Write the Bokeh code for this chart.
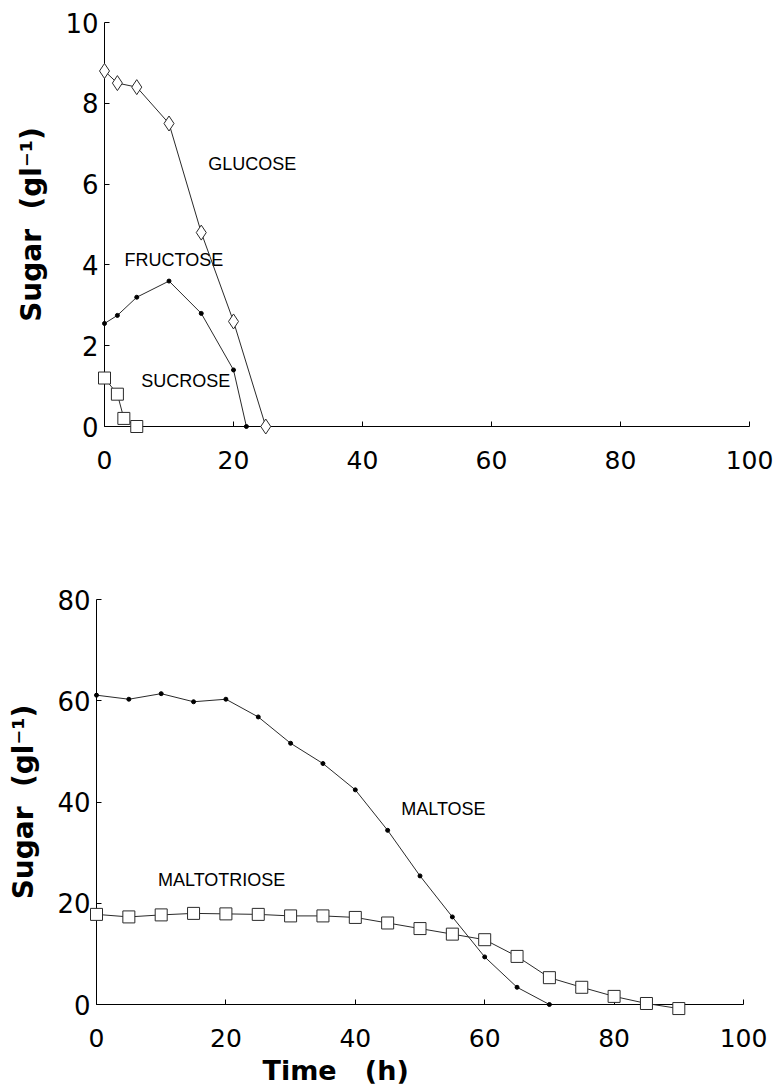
from bokeh.plotting import figure
from bokeh.models import Range1d, FixedTicker, Label, Title
from bokeh.embed import file_html
from bokeh.resources import INLINE

# ---------------- data: upper panel ----------------
glucose_t = [0, 2, 5, 10, 15, 20, 25]
glucose = [8.8, 8.5, 8.4, 7.5, 4.8, 2.6, 0.0]
fructose_t = [0, 2, 5, 10, 15, 20, 22]
fructose = [2.55, 2.75, 3.2, 3.6, 2.8, 1.4, 0.0]
sucrose_t = [0, 2, 3, 5]
sucrose = [1.2, 0.8, 0.2, 0.0]

# ---------------- data: lower panel ----------------
maltose_t = [0, 5, 10, 15, 20, 25, 30, 35, 40, 45, 50, 55, 60, 65, 70]
maltose = [61.1, 60.3, 61.4, 59.8, 60.3, 56.8, 51.6, 47.6, 42.4, 34.4, 25.4, 17.3, 9.4, 3.4, 0.0]
maltotriose_t = [0, 5, 10, 15, 20, 25, 30, 35, 40, 45, 50, 55, 60, 65, 70, 75, 80, 85, 90]
maltotriose = [17.8, 17.3, 17.7, 18.0, 17.9, 17.8, 17.5, 17.5, 17.2, 16.1, 15.0, 13.9, 12.8, 9.5,
               5.3, 3.4, 1.6, 0.2, -0.8]

x_ticks = [0, 20, 40, 60, 80, 100]
top_y_ticks = [0, 2, 4, 6, 8, 10]
bottom_y_ticks = [0, 20, 40, 60, 80]

y_label = "Sugar \u00a0(gl\u207b\u00b9)"
x_label = "Time \u00a0\u00a0(h)"

TICK_FONT = "DejaVu Sans"
LABEL_FONT = "DejaVu Sans"
LINE_COLOR = "#2a2a2a"


def style(p, yticks, label_standoff, xlabel_standoff):
    p.outline_line_color = None
    p.grid.visible = False
    p.xaxis.ticker = FixedTicker(ticks=x_ticks)
    p.yaxis.ticker = FixedTicker(ticks=yticks)
    for ax in (p.xaxis[0], p.yaxis[0]):
        ax.axis_line_color = "black"
        ax.axis_line_width = 1
        ax.major_tick_in = 5
        ax.major_tick_out = 0
        ax.minor_tick_line_color = None
        ax.major_tick_line_color = "black"
        ax.major_label_text_font = TICK_FONT
        ax.major_label_text_color = "black"
    p.xaxis.major_label_text_font_size = "25px"
    p.yaxis.major_label_text_font_size = "26px"
    p.xaxis.major_label_standoff = xlabel_standoff
    p.yaxis.major_label_standoff = 6
    p.yaxis.axis_label = y_label
    p.yaxis.axis_label_text_font = LABEL_FONT
    p.yaxis.axis_label_text_font_style = "bold"
    p.yaxis.axis_label_text_font_size = "28px"
    p.yaxis.axis_label_text_color = "black"
    p.yaxis.axis_label_standoff = label_standoff


def add_label(p, x, y, text):
    p.add_layout(Label(x=x, y=y, text=text, text_align="left", text_baseline="middle",
                       text_font="Liberation Sans", text_font_size="18px", text_color="black"))


# ---------------- upper figure ----------------
p1 = figure(output_backend="svg", toolbar_location=None,
            x_range=Range1d(0, 100), y_range=Range1d(0, 10),
            frame_width=645, frame_height=404,
            min_border_left=104, min_border_top=22, min_border_right=28, min_border_bottom=74)
style(p1, top_y_ticks, 14, 24)

r = p1.line(glucose_t, glucose, line_color=LINE_COLOR, line_width=1)
r.level = "overlay"
r = p1.scatter(glucose_t, glucose, marker="diamond", size=15, fill_color="white",
               line_color=LINE_COLOR, line_width=1)
r.level = "overlay"
r = p1.line(fructose_t, fructose, line_color=LINE_COLOR, line_width=1)
r.level = "overlay"
r = p1.scatter(fructose_t, fructose, marker="circle", size=4, fill_color="black", line_color="black")
r.level = "overlay"
r = p1.line(sucrose_t, sucrose, line_color=LINE_COLOR, line_width=1)
r.level = "overlay"
r = p1.scatter(sucrose_t, sucrose, marker="square", size=12, fill_color="white",
               line_color=LINE_COLOR, line_width=1)
r.level = "overlay"

add_label(p1, 16.1, 6.49, "GLUCOSE")
add_label(p1, 3.1, 4.13, "FRUCTOSE")
add_label(p1, 5.7, 1.12, "SUCROSE")

# ---------------- lower figure ----------------
p2 = figure(output_backend="svg", toolbar_location=None,
            x_range=Range1d(0, 100), y_range=Range1d(0, 80),
            frame_width=647, frame_height=405,
            min_border_left=96, min_border_top=99, min_border_right=34, min_border_bottom=84)
style(p2, bottom_y_ticks, 14, 24)

r = p2.line(maltose_t, maltose, line_color=LINE_COLOR, line_width=1)
r.level = "overlay"
r = p2.scatter(maltose_t, maltose, marker="circle", size=4, fill_color="black", line_color="black")
r.level = "overlay"
r = p2.line(maltotriose_t, maltotriose, line_color=LINE_COLOR, line_width=1)
r.level = "overlay"
r = p2.scatter(maltotriose_t, maltotriose, marker="square", size=12, fill_color="white",
               line_color=LINE_COLOR, line_width=1)
r.level = "overlay"

add_label(p2, 47.1, 38.7, "MALTOSE")
add_label(p2, 9.5, 24.6, "MALTOTRIOSE")

# x-axis title, placed left of centre as in the original figure
p2.add_layout(Title(text=x_label, align="left", offset=166, text_font=LABEL_FONT,
                    text_font_size="27px", text_font_style="bold", text_color="black",
                    standoff=6), "below")

open("out.html", "w").write(file_html([p1, p2], INLINE))
